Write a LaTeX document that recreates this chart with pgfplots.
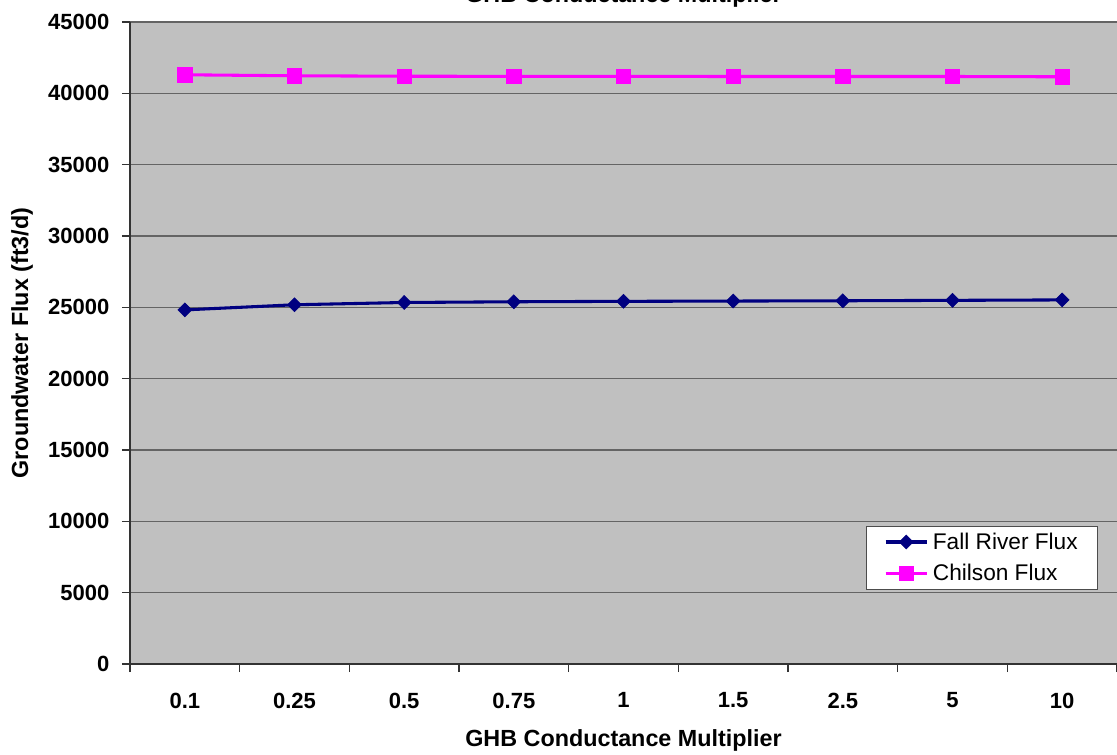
\documentclass[border=0pt]{standalone}
\usepackage{pgfplots}
\pgfplotsset{compat=1.18}
\usepackage{fontspec}
\setmainfont{Liberation Sans}
\definecolor{plotbg}{RGB}{192,192,192}
\definecolor{navyc}{RGB}{0,0,128}
\definecolor{magc}{RGB}{255,0,255}
\definecolor{gridc}{RGB}{100,100,100}
\begin{document}
\begin{tikzpicture}
\begin{axis}[
  scale only axis,
  width=740.25pt, height=481.5pt,
  xmin=-0.5, xmax=8.5,
  ymin=0, ymax=45000,
  scaled y ticks=false,
  axis background/.style={fill=plotbg},
  axis x line*=bottom, axis y line*=left,
  axis line style={black!80, line width=1pt},
  xtick={0,...,8},
  xticklabels={0.1,0.25,0.5,0.75,1,1.5,2.5,5,10},
  major x tick style={draw=none},
  minor xtick={-0.5,0.5,...,8.5},
  minor x tick style={black!80, line width=1pt},
  minor tick length=6pt,
  ytick={0,5000,...,45000},
  major y tick style={black!80, line width=1pt},
  major tick length=6pt,
  tick align=outside,
  ymajorgrids=true,
  grid style={gridc, line width=1.2pt},
  yticklabel style={/pgf/number format/1000 sep={}, /pgf/number format/assume math mode=true, font=\bfseries\fontsize{16.5}{19}\selectfont, xshift=-6pt},
  xticklabel style={font=\bfseries\fontsize{16.5}{19}\selectfont, yshift=-12pt},
  xlabel={GHB Conductance Multiplier},
  ylabel={Groundwater Flux (ft3/d)},
  xlabel style={font=\bfseries\fontsize{17.5}{20}\selectfont, at={(axis description cs:0.5,0)}, anchor=center, yshift=-57pt},
  ylabel style={font=\bfseries\fontsize{17.5}{20}\selectfont, at={(axis description cs:-0.1094,0.5)}, anchor=center},
  title={GHB Conductance Multiplier},
  title style={font=\bfseries\fontsize{17.5}{20}\selectfont, at={(axis description cs:0.5,1)}, anchor=base, yshift=9pt},
  legend style={at={(0.981,0.115)}, anchor=south east, fill=white, draw=black!70, line width=0.8pt,
    font=\fontsize{17}{20}\selectfont, row sep=6pt, inner xsep=13pt, inner ysep=3pt,
    /tikz/every odd column/.append style={column sep=1.5pt}},
  legend image code/.code={\draw[mark repeat=2, mark phase=2, #1] plot coordinates {(0cm,0cm) (0.54cm,0cm) (1.08cm,0cm)};},
  legend cell align=left,
  clip=false,
]
\addplot[navyc, line width=2.3pt, mark=diamond*, mark size=5.2pt, mark options={xscale=1.33, line width=0.5pt}]
coordinates {(0,24820) (1,25180) (2,25340) (3,25390) (4,25420) (5,25440) (6,25460) (7,25490) (8,25520)};
\addlegendentry{Fall River Flux}
\addplot[magc, line width=2.3pt, mark=square*, mark size=5.3pt, mark options={line width=0.5pt}]
coordinates {(0,41300) (1,41230) (2,41200) (3,41190) (4,41190) (5,41180) (6,41180) (7,41180) (8,41160)};
\addlegendentry{Chilson Flux}
\end{axis}
\pgfresetboundingbox
\path[use as bounding box] (-97.5pt,-67.5pt) rectangle (740.25pt,498pt);
\end{tikzpicture}
\end{document}
